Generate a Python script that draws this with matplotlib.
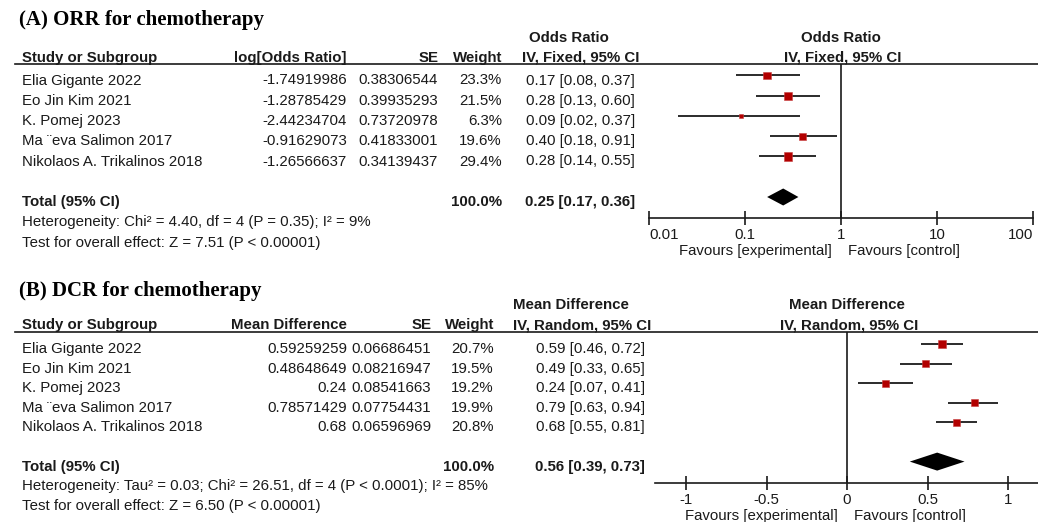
import matplotlib
matplotlib.use("Agg")
import matplotlib.pyplot as plt
from matplotlib.ticker import NullLocator

W, H = 1038, 522

studies = ["Elia Gigante 2022", "Eo Jin Kim 2021", "K. Pomej 2023",
           "Ma \u00a8eva Salimon 2017", "Nikolaos A. Trikalinos 2018"]

# (A) ORR, odds ratio, fixed effect
orr_log = [-1.74919986, -1.28785429, -2.44234704, -0.91629073, -1.26566637]
orr_se = [0.38306544, 0.39935293, 0.73720978, 0.41833001, 0.34139437]
orr_weight = [23.3, 21.5, 6.3, 19.6, 29.4]
orr_est = [0.17, 0.28, 0.09, 0.40, 0.28]
orr_lo = [0.08, 0.13, 0.02, 0.18, 0.14]
orr_hi = [0.37, 0.60, 0.37, 0.91, 0.55]
orr_total = [0.25, 0.17, 0.36]
orr_ticks = [0.01, 0.1, 1, 10, 100]
orr_ticklabels = ["0.01", "0.1", "1", "10", "100"]

# (B) DCR, mean difference, random effects
dcr_md = [0.59259259, 0.48648649, 0.24, 0.78571429, 0.68]
dcr_se = [0.06686451, 0.08216947, 0.08541663, 0.07754431, 0.06596969]
dcr_weight = [20.7, 19.5, 19.2, 19.9, 20.8]
dcr_est = [0.59, 0.49, 0.24, 0.79, 0.68]
dcr_lo = [0.46, 0.33, 0.07, 0.63, 0.55]
dcr_hi = [0.72, 0.65, 0.41, 0.94, 0.81]
dcr_total = [0.56, 0.39, 0.73]
dcr_ticks = [-1, -0.5, 0, 0.5, 1]
dcr_ticklabels = ["-1", "-0.5", "0", "0.5", "1"]

plt.rcParams['font.family'] = ['Liberation Sans', 'DejaVu Sans']
INK = '#1a1a1a'
RED = '#b20000'
FS = 10.85

fig = plt.figure(figsize=(W / 100, H / 100), dpi=100)
bg = fig.add_axes([0, 0, 1, 1])
bg.set_xlim(0, W)
bg.set_ylim(H, 0)
bg.axis('off')


def txt(x, y, s, ha='left', bold=False):
    bg.text(x, y, s, ha=ha, va='center', fontsize=FS, color=INK,
            fontweight='bold' if bold else 'normal')


def num(v):
    return '{:.8f}'.format(v).rstrip('0')


def ci(e, l, h):
    return '{:.2f} [{:.2f}, {:.2f}]'.format(e, l, h)


def panel(L, title, col2, top_hdr, method, c2, se, wt, est, lo, hi, tot,
          het, test, ticks, ticklabels, ref, logx, xlim):
    # table part
    bg.text(19, L['title_y'], title, ha='left', va='center', fontsize=15,
            fontweight='bold', family='Liberation Serif', color='black')
    txt(L['top_l'], L['top_y'], top_hdr, bold=True)
    txt(L['zero_x'], L['top_y'], top_hdr, ha='center', bold=True)
    hy = L['hdr_y']
    txt(22, hy, 'Study or Subgroup', bold=True)
    txt(347, hy, col2, ha='right', bold=True)
    txt(L['se_r'] + 1, hy, 'SE', ha='right', bold=True)
    txt(L['w_r'], hy, 'Weight', ha='right', bold=True)
    txt(L['ci_l'], hy, method, bold=True)
    txt(L['zero_x'] + 2, hy, method, ha='center', bold=True)
    bg.plot([15, W], [L['line_y'], L['line_y']], color=INK, lw=1.2)

    for i, s in enumerate(studies):
        y = L['row0'] + L['step'] * i
        txt(22, y, s)
        txt(347, y, num(c2[i]), ha='right')
        txt(L['se_r'], y, num(se[i]), ha='right')
        txt(L['w_r'], y, '{:.1f}%'.format(wt[i]), ha='right')
        txt(L['ci_r'], y, ci(est[i], lo[i], hi[i]), ha='right')
    y = L['row0'] + L['step'] * 6
    txt(22, y, 'Total (95% CI)', bold=True)
    txt(L['w_r'], y, '100.0%', ha='right', bold=True)
    txt(L['ci_r'], y, ci(*tot), ha='right', bold=True)
    txt(22, L['row0'] + L['step'] * 7, het)
    txt(22, L['row0'] + L['step'] * 8, test)
    txt(L['zero_x'] - 9, L['fav_y'], 'Favours [experimental]', ha='right')
    txt(L['zero_x'] + 7, L['fav_y'], 'Favours [control]')

    # forest part
    x0, x1 = L['ax_x0'], L['ax_x1']
    yt, yb = L['line_y'], L['axis_y']
    ax = fig.add_axes([x0 / W, 1 - yb / H, (x1 - x0) / W, (yb - yt) / H])
    ax.patch.set_visible(False)
    m0 = L['row0'] - 5
    ax.set_ylim((yb - m0) / L['step'], (yt - m0) / L['step'])
    if logx:
        ax.set_xscale('log')
    ax.set_xlim(*xlim)
    rows = list(range(len(est)))
    ax.hlines(rows, lo, hi, color=INK, lw=1.3, zorder=2)
    sizes = [(1.62 * w ** 0.5 * 0.72) ** 2 for w in wt]
    ax.scatter(est, rows, s=sizes, marker='s', color=RED,
               edgecolor='#c84040', lw=0.4, zorder=3)
    h = L['dia_h'] / L['step']
    ax.fill([tot[1], tot[0], tot[2], tot[0]], [6, 6 - h, 6, 6 + h],
            color='black', lw=0)
    ax.axvline(ref, color=INK, lw=1.2)
    for side in ['top', 'left', 'right']:
        ax.spines[side].set_visible(False)
    ax.spines['bottom'].set_linewidth(1.2)
    ax.spines['bottom'].set_color(INK)
    ax.set_yticks([])
    ax.set_xticks(ticks, ticklabels)
    ax.xaxis.set_minor_locator(NullLocator())
    ax.tick_params(axis='x', direction='inout', length=10, width=1.2,
                   labelsize=FS, pad=2, colors=INK)
    return ax


LA = dict(title_y=20, top_y=38, top_l=529, hdr_y=58, line_y=64, row0=80.5,
          step=20.25, axis_y=218, fav_y=251, se_r=438, w_r=502, ci_r=635,
          ci_l=522, zero_x=841, ax_x0=649, ax_x1=1033, dia_h=8.5)
LB = dict(title_y=291, top_y=305, top_l=513, hdr_y=325, line_y=332, row0=349,
          step=19.6, axis_y=483, fav_y=516, se_r=431, w_r=494, ci_r=645,
          ci_l=513, zero_x=847, ax_x0=655, ax_x1=1038, dia_h=9)

axA = panel(LA, '(A) ORR for chemotherapy', 'log[Odds Ratio]', 'Odds Ratio',
            'IV, Fixed, 95% CI', orr_log, orr_se, orr_weight,
            orr_est, orr_lo, orr_hi, orr_total,
            'Heterogeneity: Chi\u00b2 = 4.40, df = 4 (P = 0.35); I\u00b2 = 9%',
            'Test for overall effect: Z = 7.51 (P < 0.00001)',
            orr_ticks, orr_ticklabels, 1, True, (0.01, 100))
labs = axA.get_xticklabels()
labs[0].set_ha('left')
labs[-1].set_ha('right')

axB = panel(LB, '(B) DCR for chemotherapy', 'Mean Difference', 'Mean Difference',
            'IV, Random, 95% CI', dcr_md, dcr_se, dcr_weight,
            dcr_est, dcr_lo, dcr_hi, dcr_total,
            'Heterogeneity: Tau\u00b2 = 0.03; Chi\u00b2 = 26.51, df = 4 (P < 0.0001); I\u00b2 = 85%',
            'Test for overall effect: Z = 6.50 (P < 0.00001)',
            dcr_ticks, dcr_ticklabels, 0, False,
            ((655 - 847) / 161, (1038 - 847) / 161))

fig.savefig('out.png', dpi=100, facecolor='white')
